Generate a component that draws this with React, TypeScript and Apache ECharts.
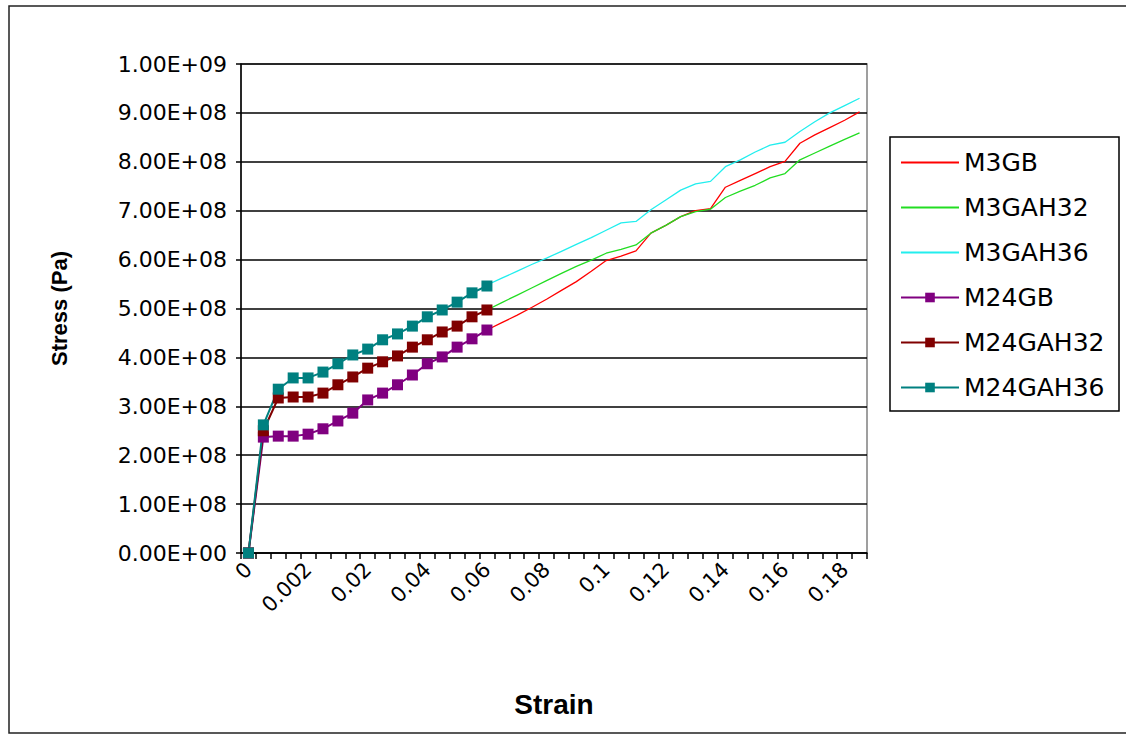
import React, { useEffect, useRef } from "react";
import * as echarts from "echarts";

// Strain categories (Excel category axis, every 4th label shown)
const strainCategories: string[] = [
  "0", "0.0012", "0.0015", "0.0018", "0.002", "0.005", "0.01", "0.015",
  "0.02", "0.025", "0.03", "0.035", "0.04", "0.045", "0.05", "0.055",
  "0.06", "0.065", "0.07", "0.075", "0.08", "0.085", "0.09", "0.095",
  "0.1", "0.105", "0.11", "0.115", "0.12", "0.125", "0.13", "0.135",
  "0.14", "0.145", "0.15", "0.155", "0.16", "0.165", "0.17", "0.175",
  "0.18", "0.185",
];

// Stress (Pa) — M24 series, from strain 0 to 0.06
const m24GB: number[] = [
  0, 2.37e8, 2.39e8, 2.39e8, 2.43e8, 2.54e8, 2.70e8, 2.86e8, 3.13e8,
  3.27e8, 3.44e8, 3.64e8, 3.87e8, 4.01e8, 4.21e8, 4.38e8, 4.56e8,
];
const m24GAH32: number[] = [
  0, 2.50e8, 3.17e8, 3.19e8, 3.19e8, 3.27e8, 3.44e8, 3.60e8, 3.78e8,
  3.91e8, 4.03e8, 4.21e8, 4.36e8, 4.52e8, 4.64e8, 4.83e8, 4.97e8,
];
const m24GAH36: number[] = [
  0, 2.62e8, 3.35e8, 3.58e8, 3.58e8, 3.70e8, 3.87e8, 4.05e8, 4.17e8,
  4.36e8, 4.48e8, 4.64e8, 4.83e8, 4.97e8, 5.13e8, 5.32e8, 5.46e8,
];

// Stress (Pa) — M3 series, from strain 0.06 to 0.185
const m3StartIndex = 16;
const m3GB: number[] = [
  4.56e8, 4.71e8, 4.86e8, 5.02e8, 5.19e8, 5.37e8, 5.55e8, 5.76e8, 5.98e8,
  6.07e8, 6.18e8, 6.54e8, 6.70e8, 6.88e8, 7.00e8, 7.04e8, 7.48e8, 7.62e8,
  7.76e8, 7.90e8, 8.01e8, 8.38e8, 8.55e8, 8.70e8, 8.85e8, 9.02e8,
];
const m3GAH32: number[] = [
  4.97e8, 5.12e8, 5.27e8, 5.42e8, 5.57e8, 5.72e8, 5.86e8, 5.99e8, 6.13e8,
  6.21e8, 6.30e8, 6.54e8, 6.70e8, 6.88e8, 6.98e8, 7.03e8, 7.27e8, 7.40e8,
  7.52e8, 7.67e8, 7.76e8, 8.04e8, 8.18e8, 8.32e8, 8.46e8, 8.59e8,
];
const m3GAH36: number[] = [
  5.48e8, 5.62e8, 5.76e8, 5.90e8, 6.03e8, 6.17e8, 6.31e8, 6.45e8, 6.60e8,
  6.75e8, 6.78e8, 7.02e8, 7.22e8, 7.42e8, 7.55e8, 7.60e8, 7.90e8, 8.04e8,
  8.20e8, 8.34e8, 8.40e8, 8.62e8, 8.82e8, 9.00e8, 9.15e8, 9.30e8,
];

const seriesNames = ["M3GB", "M3GAH32", "M3GAH36", "M24GB", "M24GAH32", "M24GAH36"];
const seriesColors = ["#FF0000", "#22DD22", "#22EEEE", "#800080", "#800000", "#008080"];

const padM3 = (vals: number[]) => [
  ...new Array(m3StartIndex).fill(null),
  ...vals,
];

const sciFormat = (v: number) =>
  v
    .toExponential(2)
    .toUpperCase()
    .replace(/E([+-])(\d)$/, "E$10$2");

export default function App() {
  const ref = useRef<HTMLDivElement>(null);
  useEffect(() => {
    const chart = echarts.init(ref.current!, null, { renderer: "svg" });
    const font = "DejaVu Sans";
    const m3Data = [m3GB, m3GAH32, m3GAH36].map(padM3);
    const m24Data = [m24GB, m24GAH32, m24GAH36];
    chart.setOption({
      animation: false,
      backgroundColor: "#ffffff",
      textStyle: { fontFamily: font, color: "#000" },
      graphic: [
        {
          type: "rect",
          shape: { x: 9, y: 6, width: 1140, height: 727 },
          style: { fill: "none", stroke: "#222", lineWidth: 1.5 },
          silent: true,
        },
      ],
      grid: {
        left: 241,
        right: 259,
        top: 64,
        bottom: 183,
        show: true,
        borderColor: "#808080",
        borderWidth: 1.5,
        backgroundColor: "transparent",
      },
      legend: {
        orient: "vertical",
        left: 890,
        top: 137,
        padding: [13, 10, 11, 10],
        itemGap: 20,
        itemWidth: 58,
        itemHeight: 12,
        borderColor: "#000",
        borderWidth: 1.5,
        backgroundColor: "#fff",
        data: seriesNames.map((n, i) =>
          i < 3 ? { name: n, itemStyle: { opacity: 0 } } : { name: n }
        ),
        textStyle: {
          fontFamily: font,
          fontSize: 25,
          color: "#000",
          lineHeight: 25,
          width: 145,
        },
      },
      xAxis: {
        type: "category",
        data: strainCategories,
        boundaryGap: true,
        axisLine: { show: true, lineStyle: { color: "#000", width: 1.5 } },
        axisTick: { show: true, interval: 0, length: 6, lineStyle: { color: "#000", width: 1.5 } },
        axisLabel: {
          interval: 3,
          rotate: 45,
          fontFamily: font,
          fontSize: 21,
          color: "#000",
          margin: 13,
        },
        splitLine: { show: false },
        name: "Strain",
        nameLocation: "middle",
        nameGap: 137,
        nameTextStyle: {
          fontFamily: "Liberation Sans",
          fontWeight: "bold",
          fontSize: 28,
          color: "#000",
        },
      },
      yAxis: {
        type: "value",
        min: 0,
        max: 1e9,
        interval: 1e8,
        axisLine: { show: true, lineStyle: { color: "#000", width: 1.5 } },
        axisTick: { show: true, length: 5, lineStyle: { color: "#000", width: 1.5 } },
        axisLabel: {
          formatter: (v: number) => sciFormat(v),
          fontFamily: font,
          fontSize: 22,
          color: "#000",
          margin: 14,
        },
        splitLine: { show: true, lineStyle: { color: "#000", width: 1.5 } },
        name: "Stress (Pa)",
        nameLocation: "middle",
        nameGap: 171,
        nameTextStyle: {
          fontFamily: "Liberation Sans",
          fontWeight: "bold",
          fontSize: 22,
          color: "#000",
        },
      },
      series: [
        ...m3Data.map((d, i) => ({
          name: seriesNames[i],
          type: "line",
          data: d,
          symbol: "none",
          connectNulls: false,
          color: seriesColors[i],
          lineStyle: { color: seriesColors[i], width: 1.3 },
        })),
        ...m24Data.map((d, i) => ({
          name: seriesNames[i + 3],
          type: "line",
          data: d,
          symbol: "rect",
          symbolSize: 11,
          showAllSymbol: true,
          color: seriesColors[i + 3],
          itemStyle: { color: seriesColors[i + 3] },
          lineStyle: { color: seriesColors[i + 3], width: 2 },
        })),
      ],
    });
    return () => chart.dispose();
  }, []);
  return (
    <div
      ref={ref}
      style={{ position: "fixed", left: 0, top: 0, width: 1126, height: 736, background: "#fff" }}
    />
  );
}
